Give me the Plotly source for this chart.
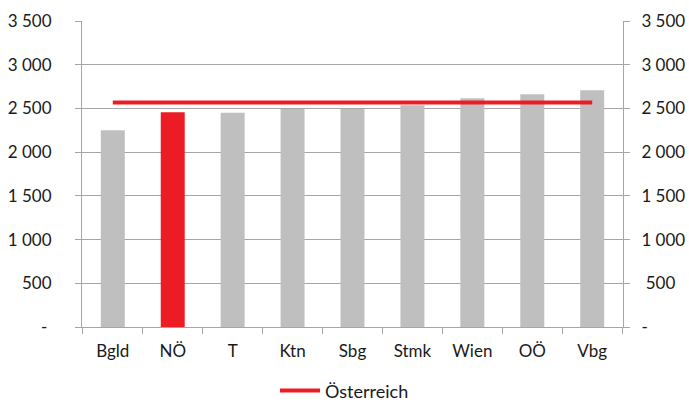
import plotly.graph_objects as go

categories = ["Bgld", "NÖ", "T", "Ktn", "Sbg", "Stmk", "Wien", "OÖ", "Vbg"]
values = [2250, 2456, 2452, 2493, 2493, 2536, 2616, 2662, 2707]
austria = [2567] * len(categories)
bar_colors = ["#bfbfbf", "#ed1c24", "#bfbfbf", "#bfbfbf", "#bfbfbf", "#bfbfbf", "#bfbfbf", "#bfbfbf", "#bfbfbf"]
tick_vals = [0, 500, 1000, 1500, 2000, 2500, 3000, 3500]
tick_text_left = ["- ", "500", "1 000", "1 500", "2 000", "2 500", "3 000", "3 500"]
tick_text_right = ["-", " 500", "1 000", "1 500", "2 000", "2 500", "3 000", "3 500"]

FONT = "Lato"
AX = "#a6a6a6"

fig = go.Figure()
fig.add_trace(go.Bar(x=categories, y=values, marker=dict(color=bar_colors, line=dict(width=0)),
                     width=0.4, showlegend=False, hoverinfo="skip"))
fig.add_trace(go.Scatter(x=categories, y=austria, mode="lines", name="Österreich",
                         line=dict(color="#ed1c24", width=4)))
fig.add_trace(go.Scatter(x=categories, y=values, yaxis="y2", mode="markers",
                         marker=dict(opacity=0), showlegend=False, hoverinfo="skip"))

fig.update_layout(
    width=689, height=403,
    margin=dict(l=82, r=66, t=21, b=76),
    plot_bgcolor="white", paper_bgcolor="white",
    font=dict(family=FONT, size=17, color="#1a1a1a"),
    xaxis=dict(showline=True, linecolor=AX, linewidth=1, ticks="outside", tickson="boundaries",
               ticklen=6, tickcolor=AX, showgrid=False, tickfont=dict(size=17),
               ticklabelstandoff=9, automargin=False),
    yaxis=dict(range=[0, 3500], tickvals=tick_vals, ticktext=tick_text_left, showline=True,
               linecolor=AX, linewidth=1, ticks="outside", ticklen=6, tickcolor=AX,
               showgrid=True, gridcolor=AX, gridwidth=1, zeroline=False,
               ticklabelstandoff=20, automargin=False),
    yaxis2=dict(range=[0, 3500], tickvals=tick_vals, ticktext=tick_text_right, overlaying="y",
                side="right", showline=True, linecolor=AX, linewidth=1, ticks="outside",
                ticklen=6, tickcolor=AX, showgrid=False, zeroline=False, ticklabelstandoff=8,
                automargin=False),
    legend=dict(orientation="h", x=0.5, xanchor="center", xref="container",
                y=0.03, yanchor="middle", yref="container", itemwidth=40,
                font=dict(size=18)),
)

fig.write_html("out.html", config={"displayModeBar": False},
               post_script="document.body.style.margin='0';")
